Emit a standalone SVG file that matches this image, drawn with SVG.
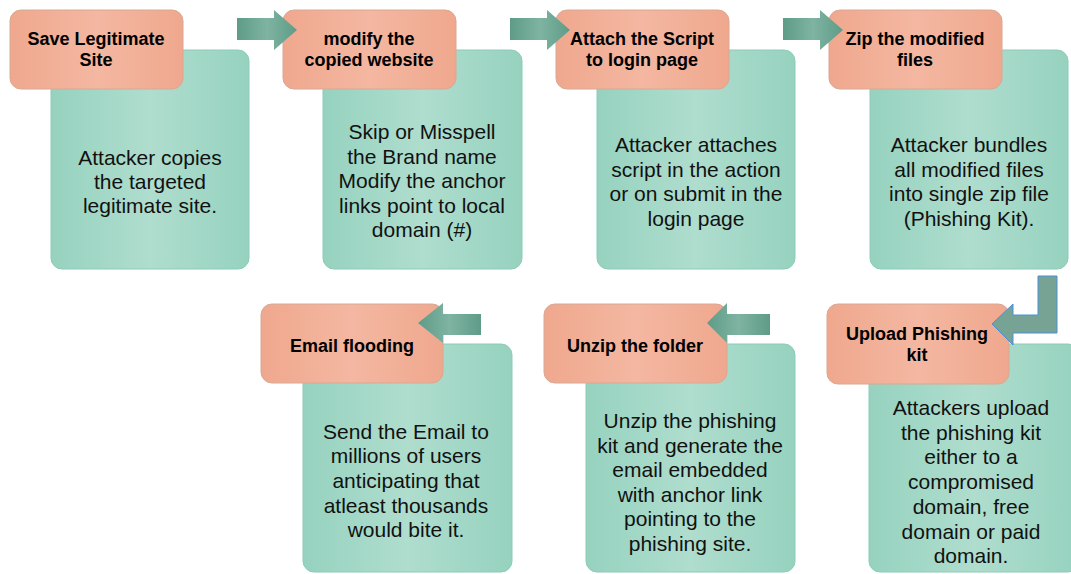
<svg xmlns="http://www.w3.org/2000/svg" width="1071" height="574" viewBox="0 0 1071 574">
<defs>
<linearGradient id="gG" x1="0" y1="0" x2="1" y2="0">
<stop offset="0" stop-color="#96d2bf"/><stop offset="0.5" stop-color="#afddce"/><stop offset="1" stop-color="#96d2bf"/>
</linearGradient>
<linearGradient id="oG" x1="0" y1="0" x2="1" y2="0">
<stop offset="0" stop-color="#efa88e"/><stop offset="0.5" stop-color="#f4b7a1"/><stop offset="1" stop-color="#efa88e"/>
</linearGradient>
<linearGradient id="aG" x1="0" y1="0" x2="1" y2="0">
<stop offset="0" stop-color="#5e9c88"/><stop offset="0.5" stop-color="#7fb3a2"/><stop offset="1" stop-color="#5e9c88"/>
</linearGradient>
<style>
.g{fill:url(#gG);stroke:#8cccb6;stroke-width:1}
.o{fill:url(#oG);stroke:#d8a894;stroke-width:1}
.t{font-family:"Liberation Sans",Arial,sans-serif;font-weight:bold;font-size:18px;fill:#000;text-anchor:middle}
.b{font-family:"Liberation Sans",Arial,sans-serif;font-size:21px;fill:#111;text-anchor:middle}
.a{fill:url(#aG)}
</style>
</defs>
<g id="n1">
<rect class="g" x="51" y="50" width="198" height="219" rx="11"/>
<rect class="o" x="10" y="10" width="173" height="79" rx="11"/>
<text class="t" x="96" y="45">Save Legitimate</text>
<text class="t" x="96" y="66">Site</text>
<text class="b" x="150" y="165">Attacker copies</text>
<text class="b" x="150" y="189">the targeted</text>
<text class="b" x="150" y="213">legitimate site.</text>
</g>
<g id="n2">
<rect class="g" x="323" y="50" width="199" height="219" rx="11"/>
<rect class="o" x="283" y="10" width="173" height="79" rx="11"/>
<text class="t" x="369" y="45">modify the</text>
<text class="t" x="369" y="66">copied website</text>
<text class="b" x="422" y="139">Skip or Misspell</text>
<text class="b" x="422" y="164">the Brand name</text>
<text class="b" x="422" y="188">Modify the anchor</text>
<text class="b" x="422" y="213">links point to local</text>
<text class="b" x="422" y="237">domain (#)</text>
</g>
<g id="n3">
<rect class="g" x="597" y="50" width="198" height="219" rx="11"/>
<rect class="o" x="556" y="10" width="173" height="79" rx="11"/>
<text class="t" x="642" y="45">Attach the Script</text>
<text class="t" x="642" y="66">to login page</text>
<text class="b" x="696" y="152">Attacker attaches</text>
<text class="b" x="696" y="177">script in the action</text>
<text class="b" x="696" y="201">or on submit in the</text>
<text class="b" x="696" y="226">login page</text>
</g>
<g id="n4">
<rect class="g" x="870" y="50" width="198" height="219" rx="11"/>
<rect class="o" x="829" y="10" width="173" height="79" rx="11"/>
<text class="t" x="915" y="45">Zip the modified</text>
<text class="t" x="915" y="66">files</text>
<text class="b" x="969" y="152">Attacker bundles</text>
<text class="b" x="969" y="177">all modified files</text>
<text class="b" x="969" y="201">into single zip file</text>
<text class="b" x="969" y="226">(Phishing Kit).</text>
</g>
<g id="n5">
<rect class="g" x="869" y="344" width="210" height="228" rx="11"/>
<rect class="o" x="827" y="304" width="182" height="80" rx="11"/>
<text class="t" x="917" y="340">Upload Phishing</text>
<text class="t" x="917" y="361">kit</text>
<text class="b" x="971" y="415">Attackers upload</text>
<text class="b" x="971" y="440">the phishing kit</text>
<text class="b" x="971" y="464">either to a</text>
<text class="b" x="971" y="489">compromised</text>
<text class="b" x="971" y="514">domain, free</text>
<text class="b" x="971" y="539">domain or paid</text>
<text class="b" x="971" y="563">domain.</text>
</g>
<g id="n6">
<rect class="g" x="586" y="344" width="209" height="228" rx="11"/>
<rect class="o" x="544" y="304" width="183" height="79" rx="11"/>
<text class="t" x="635" y="352">Unzip the folder</text>
<text class="b" x="690" y="428">Unzip the phishing</text>
<text class="b" x="690" y="453">kit and generate the</text>
<text class="b" x="690" y="477">email embedded</text>
<text class="b" x="690" y="502">with anchor link</text>
<text class="b" x="690" y="526">pointing to the</text>
<text class="b" x="690" y="551">phishing site.</text>
</g>
<g id="n7">
<rect class="g" x="303" y="344" width="209" height="228" rx="11"/>
<rect class="o" x="261" y="304" width="182" height="79" rx="11"/>
<text class="t" x="352" y="352">Email flooding</text>
<text class="b" x="406" y="439">Send the Email to</text>
<text class="b" x="406" y="463">millions of users</text>
<text class="b" x="406" y="488">anticipating that</text>
<text class="b" x="406" y="513">atleast thousands</text>
<text class="b" x="406" y="537">would bite it.</text>
</g>
<g id="connectors">
<path class="a" d="M237,18 H274 V10 L297,30 L274,50 V40 H237 Z"/>
<path class="a" d="M510,18 H547 V10 L570,30 L547,50 V40 H510 Z"/>
<path class="a" d="M783,18 H820 V10 L843,30 L820,50 V40 H783 Z"/>
<path d="M1038,276 H1057 V333 H1013 V345 L992,324 L1013,304 V315 H1038 Z" fill="#76a394" stroke="#4a90d9" stroke-width="1"/>
<path class="a" d="M770,314 H727 V303 L707,323 L727,343 V335 H770 Z"/>
<path class="a" d="M481,314 H443 V303 L418,323 L443,343 V335 H481 Z"/>
</g>
</svg>
